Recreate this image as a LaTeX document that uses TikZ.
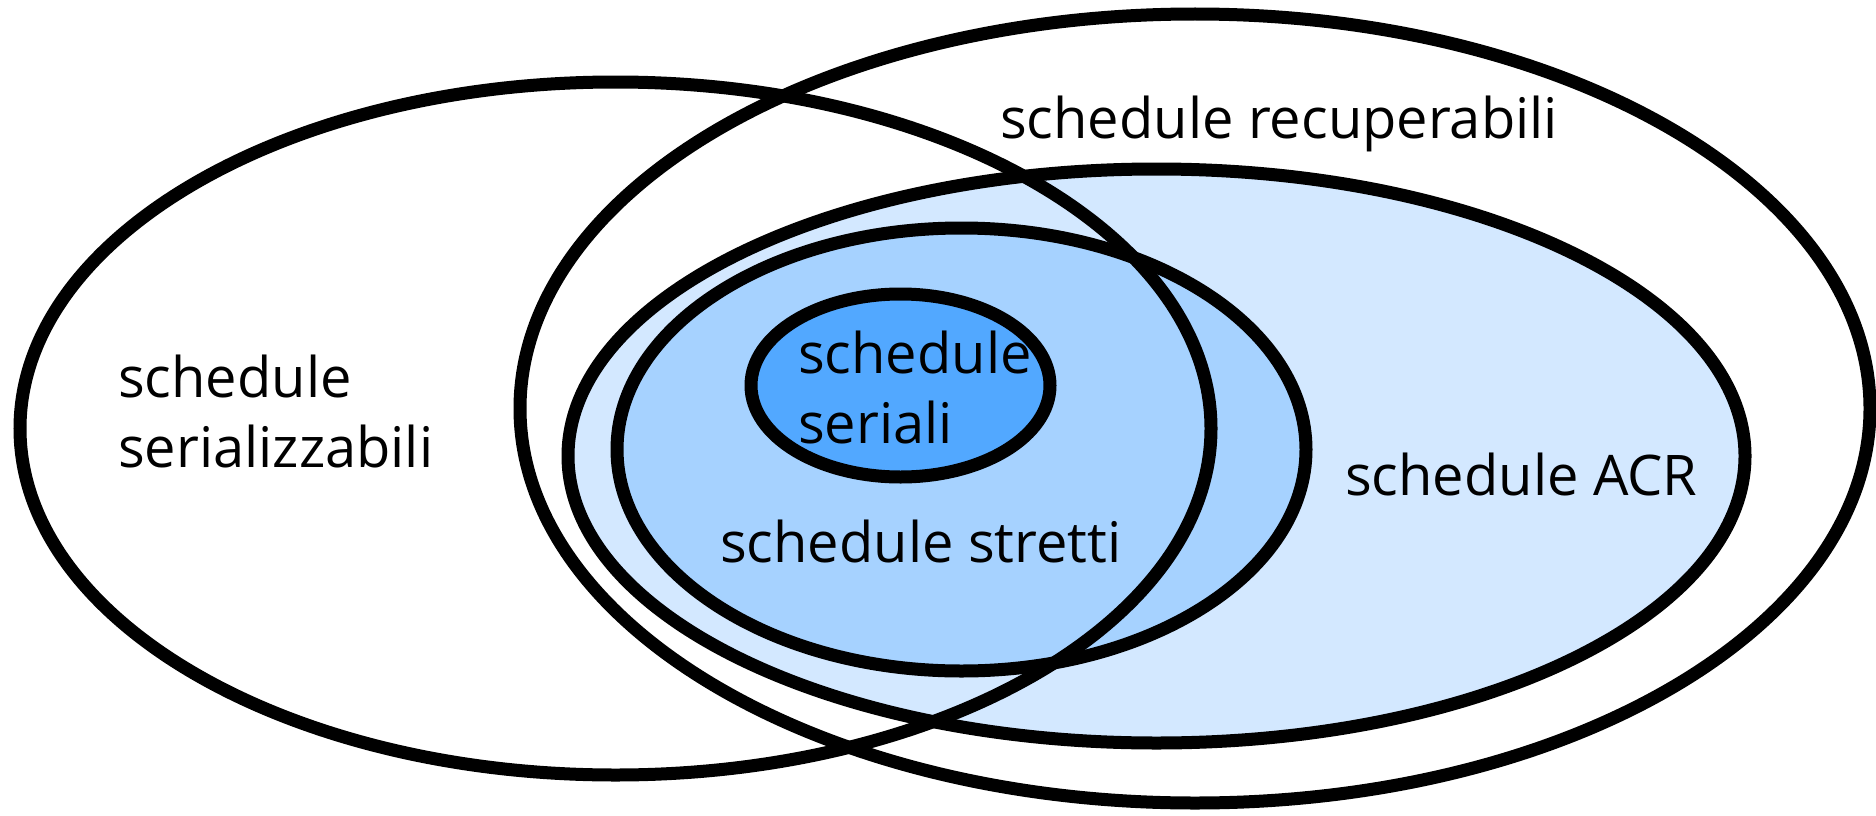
\documentclass[tikz,border=0pt]{standalone}
\usepackage{fontspec}
\setmainfont{Open Sans}
\usetikzlibrary{shapes.geometric}
\definecolor{acrfill}{RGB}{211,232,255}
\definecolor{strettifill}{RGB}{166,210,255}
\definecolor{serialifill}{RGB}{82,168,255}
\tikzset{
  setshape/.style={ellipse, draw=black, line width=13pt, inner sep=0pt, minimum width=#1},
  setlabel/.style={inner sep=0pt, anchor=base west, align=left, font=\fontsize{56}{70}\selectfont}
}
\begin{document}
\begin{tikzpicture}[x=1pt, y=-1pt]
  \useasboundingbox (0,0) rectangle (1876,816);
  % nested sets, outer to inner
  \node[setshape=1350pt, minimum height=789pt] (recup) at (1195,408.5) {};
  \node[setshape=1177pt, minimum height=574pt, fill=acrfill] (acr) at (1156.5,456) {};
  \node[setshape=689pt, minimum height=443pt, fill=strettifill] (stretti) at (961.5,449.5) {};
  \node[setshape=299pt, minimum height=183pt, fill=serialifill] (seriali) at (900.5,385.5) {};
  % overlapping set drawn on top
  \node[setshape=1191pt, minimum height=693pt] (serializ) at (615.5,428.5) {};
  % labels (base anchor sits on the last line)
  \node[setlabel] (lserializ) at (118,467) {schedule\\serializzabili};
  \node[setlabel] (lrecup) at (1000,138) {schedule recuperabili};
  \node[setlabel] (lseriali) at (798,443) {schedule\\seriali};
  \node[setlabel] (lstretti) at (720,562) {schedule stretti};
  \node[setlabel] (lacr) at (1345,495) {schedule ACR};
\end{tikzpicture}
\end{document}
